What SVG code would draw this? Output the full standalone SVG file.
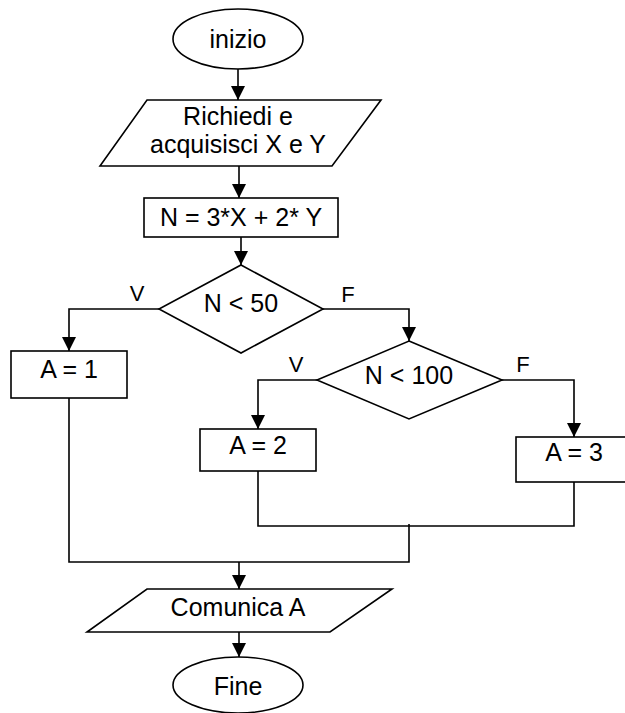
<svg xmlns="http://www.w3.org/2000/svg" width="625" height="713" viewBox="0 0 625 713">
<style>
.s{fill:#fff;stroke:#000;stroke-width:1.6}
.c{fill:none;stroke:#000;stroke-width:1.6}
.t{font-family:"Liberation Sans",Arial,sans-serif;font-size:25px;fill:#000;text-anchor:middle}
.l{font-family:"Liberation Sans",Arial,sans-serif;font-size:22px;fill:#000;text-anchor:middle}
</style>
<defs>
<marker id="ah" markerUnits="userSpaceOnUse" markerWidth="16" markerHeight="16" refX="14" refY="7" orient="auto">
<path d="M0,0 L14,7 L0,14 z" fill="#000"/>
</marker>
</defs>
<g id="connectors">
<path class="c" d="M238,69 V100" marker-end="url(#ah)"/>
<path class="c" d="M239,166 V198" marker-end="url(#ah)"/>
<path class="c" d="M241,237 V265" marker-end="url(#ah)"/>
<path class="c" d="M159,309 H69 V351" marker-end="url(#ah)"/>
<path class="c" d="M323,309 H409 V341" marker-end="url(#ah)"/>
<path class="c" d="M317,380 H258 V429" marker-end="url(#ah)"/>
<path class="c" d="M502,380 H574 V437" marker-end="url(#ah)"/>
<path class="c" d="M258,471 V526 H574 V482"/>
<path class="c" d="M69,398 V562 H409 V524"/>
<path class="c" d="M239,562 V589" marker-end="url(#ah)"/>
<path class="c" d="M239,632 V657" marker-end="url(#ah)"/>
<text class="l" x="137" y="301">V</text>
<text class="l" x="348" y="302">F</text>
<text class="l" x="296" y="372">V</text>
<text class="l" x="523" y="372">F</text>
</g>
<g id="inizio">
<ellipse class="s" cx="238" cy="39" rx="65" ry="30"/>
<text class="t" x="238" y="48">inizio</text>
</g>
<g id="input">
<polygon class="s" points="147,100 381,100 332,166 100,166"/>
<text class="t" x="238" y="125">Richiedi e</text>
<text class="t" x="238" y="153">acquisisci X e Y</text>
</g>
<g id="calcN">
<rect class="s" x="144" y="198" width="194" height="39"/>
<text class="t" x="241" y="226">N = 3*X + 2* Y</text>
</g>
<g id="dec50">
<polygon class="s" points="241,265 323,309 241,353 159,309"/>
<text class="t" x="241" y="312">N &lt; 50</text>
</g>
<g id="a1">
<rect class="s" x="11" y="351" width="116" height="47"/>
<text class="t" x="69" y="378">A = 1</text>
</g>
<g id="dec100">
<polygon class="s" points="409,341 502,380 409,419 317,380"/>
<text class="t" x="409" y="384">N &lt; 100</text>
</g>
<g id="a2">
<rect class="s" x="200" y="429" width="116" height="42"/>
<text class="t" x="258" y="454">A = 2</text>
</g>
<g id="a3">
<rect class="s" x="516" y="437" width="116" height="45"/>
<text class="t" x="574" y="461">A = 3</text>
</g>
<g id="output">
<polygon class="s" points="147,589 392,589 330,632 87,632"/>
<text class="t" x="238" y="616">Comunica A</text>
</g>
<g id="fine">
<ellipse class="s" cx="238" cy="685" rx="65" ry="28"/>
<text class="t" x="238" y="695">Fine</text>
</g>
</svg>
